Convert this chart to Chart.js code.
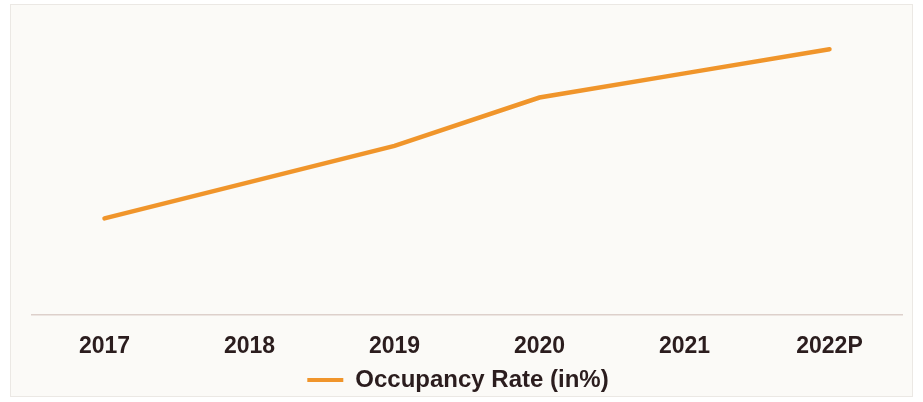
<!DOCTYPE html>
<html>
<head>
<meta charset="utf-8">
<script src="https://cdn.jsdelivr.net/npm/chart.js@4.4.1/dist/chart.umd.min.js"></script>
<style>
  html, body { margin: 0; padding: 0; background: #ffffff; }
  body { width: 923px; height: 402px; position: relative; overflow: hidden; }
  .frame {
    position: absolute; left: 10px; top: 4px; width: 901px; height: 391px;
    background: #fbfaf7; border: 1px solid #ebe8e4;
  }
  .wrap { position: absolute; left: 0; top: 0; width: 923px; height: 402px; }
</style>
</head>
<body>
<div class="frame"></div>
<div class="wrap"><canvas id="occChart"></canvas></div>
<script>
// 年份 + 入住率（纵轴不显示，数值按图中位置估计）
const years = ['2017', '2018', '2019', '2020', '2021', '2022P'];
const occupancyRate = [60, 63, 66, 70, 72, 74];
const seriesName = 'Occupancy Rate (in%)';

const ORANGE = '#f0952b';
const TEXT = '#2b1d1e';
const FONT = 'Arial, "Liberation Sans", sans-serif';

// 图例整体略偏左（原图不是按绘图区居中）
const legendNudge = {
    id: 'legendNudge',
    afterLayout(chart) {
        const lg = chart.legend;
        if (!lg) return;
        lg.left -= 9;
        lg.right -= 9;
    }
};

const ctx = document.getElementById('occChart').getContext('2d');
new Chart(ctx, {
    type: 'line',
    data: {
        labels: years,
        datasets: [{
            label: seriesName,
            data: occupancyRate,
            borderColor: ORANGE,
            backgroundColor: ORANGE,
            borderWidth: 4.5,
            borderCapStyle: 'round',
            pointRadius: 0,
            pointHoverRadius: 0,
            tension: 0,
            fill: false
        }]
    },
    plugins: [legendNudge],
    options: {
        responsive: true,
        maintainAspectRatio: false,
        animation: false,
        layout: {
            padding: { left: 32, right: 21, top: 13, bottom: 0 }
        },
        plugins: {
            legend: {
                display: true,
                position: 'bottom',
                labels: {
                    boxWidth: 36,
                    boxHeight: 4,
                    padding: 0,
                    color: TEXT,
                    font: { family: FONT, size: 24, weight: 'bold' },
                    generateLabels: function(chart) {
                        return chart.data.datasets.map((ds, i) => ({
                            text: ds.label,
                            fillStyle: ORANGE,
                            strokeStyle: ORANGE,
                            lineWidth: 0,
                            fontColor: TEXT,
                            datasetIndex: i
                        }));
                    }
                }
            },
            tooltip: { enabled: false }
        },
        scales: {
            x: {
                offset: true,
                grid: { display: false, drawTicks: false },
                border: { display: true, color: '#ddd0cb', width: 1.5 },
                ticks: {
                    color: TEXT,
                    padding: 18,
                    maxRotation: 0,
                    font: { family: FONT, size: 23, weight: 'bold' }
                },
                // 刻度文字下方不留那么多空白，让图例贴近
                afterFit(scale) {
                    scale.height = 53;
                }
            },
            y: {
                display: false,
                min: 52,
                max: 77
            }
        }
    }
});
</script>
</body>
</html>
